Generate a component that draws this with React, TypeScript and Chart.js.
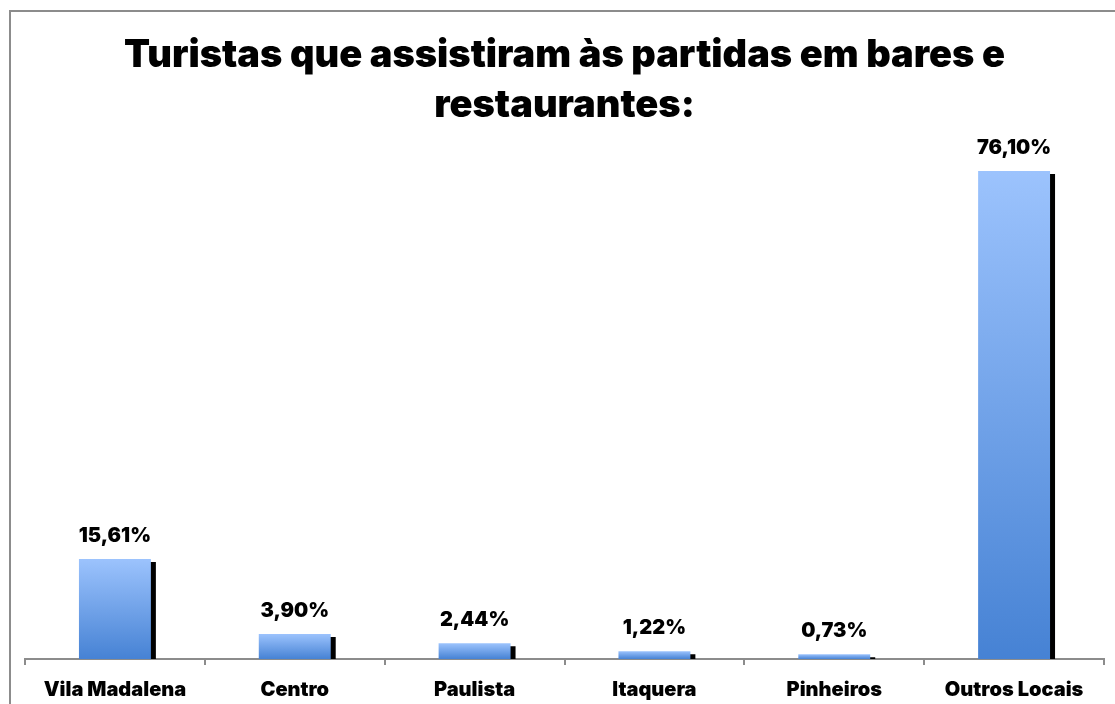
import React, { useEffect, useRef } from "react";
import { Chart, registerables } from "chart.js";

Chart.register(...registerables);

const categories = ["Vila Madalena", "Centro", "Paulista", "Itaquera", "Pinheiros", "Outros Locais"];
const values = [15.61, 3.9, 2.44, 1.22, 0.73, 76.1];
const titleLines = ["Turistas que assistiram às partidas em bares e", "restaurantes:"];
const yMin = 0;
const yMax = 80;

const FONT = "Inter";

const fmt = (v: number) => v.toFixed(2).replace(".", ",") + "%";

const shadowPlugin = {
  id: "barShadow",
  beforeDatasetsDraw(chart: any) {
    const ctx = chart.ctx;
    ctx.save();
    ctx.shadowColor = "#000000";
    ctx.shadowOffsetX = 5;
    ctx.shadowOffsetY = 3;
    ctx.shadowBlur = 0;
  },
  afterDatasetsDraw(chart: any) {
    chart.ctx.restore();
  },
};

const labelPlugin = {
  id: "valueLabels",
  afterDatasetsDraw(chart: any) {
    const ctx = chart.ctx;
    const meta = chart.getDatasetMeta(0);
    ctx.save();
    ctx.shadowColor = "transparent";
    ctx.font = `900 20px ${FONT}`;
    ctx.fillStyle = "#000";
    ctx.textAlign = "center";
    ctx.textBaseline = "alphabetic";
    meta.data.forEach((el: any, i: number) => {
      ctx.fillText(fmt(values[i]), el.x, el.y - 17);
    });
    ctx.restore();
  },
};

export default function App() {
  const ref = useRef<HTMLCanvasElement | null>(null);

  useEffect(() => {
    if (!ref.current) return;
    const chart = new Chart(ref.current, {
      type: "bar",
      data: {
        labels: categories,
        datasets: [
          {
            data: values,
            barPercentage: 0.4,
            categoryPercentage: 1,
            borderWidth: 0,
            backgroundColor: (c: any) => {
              const ch = c.chart;
              const ys = ch.scales && ch.scales.y;
              if (!ys || c.type !== "data") return "#7aa6ea";
              const v = values[c.dataIndex];
              const top = ys.getPixelForValue(v);
              const base = ys.getPixelForValue(0);
              if (!isFinite(top) || !isFinite(base) || top === base) return "#7aa6ea";
              const g = ch.ctx.createLinearGradient(0, top, 0, base);
              g.addColorStop(0, "#9cc3fd");
              g.addColorStop(1, "#4682d4");
              return g;
            },
          },
        ],
      },
      options: {
        animation: false,
        responsive: true,
        maintainAspectRatio: false,
        layout: { padding: { left: 14, right: 11, top: 0, bottom: 0 } },
        plugins: {
          legend: { display: false },
          tooltip: { enabled: false },
          title: {
            display: true,
            text: titleLines,
            color: "#000",
            font: { family: FONT, size: 38, weight: "900", lineHeight: 1.33 },
            padding: { top: 18, bottom: 15 },
          },
        },
        scales: {
          x: {
            offset: true,
            grid: {
              display: true,
              drawOnChartArea: false,
              drawTicks: true,
              tickLength: 6,
              color: "#8c8c8c",
              lineWidth: 2,
              offset: true,
            },
            border: { display: true, color: "#8c8c8c", width: 2 },
            ticks: {
              color: "#000",
              padding: 13,
              maxRotation: 0,
              autoSkip: false,
              font: { family: FONT, size: 20, weight: "900" },
            },
            afterFit: (s: any) => {
              s.height = 45;
            },
          },
          y: {
            display: false,
            min: yMin,
            max: yMax,
          },
        },
      },
      plugins: [shadowPlugin, labelPlugin],
    } as any);
    return () => chart.destroy();
  }, []);

  return (
    <div
      style={{
        position: "absolute",
        left: 9,
        top: 10,
        width: 1106,
        height: 694,
        boxSizing: "border-box",
        borderLeft: "2px solid #8c8c8c",
        borderTop: "2px solid #8c8c8c",
        background: "#fff",
      }}
    >
      <div style={{ position: "relative", width: 1104, height: 692 }}>
        <canvas ref={ref} />
      </div>
    </div>
  );
}
